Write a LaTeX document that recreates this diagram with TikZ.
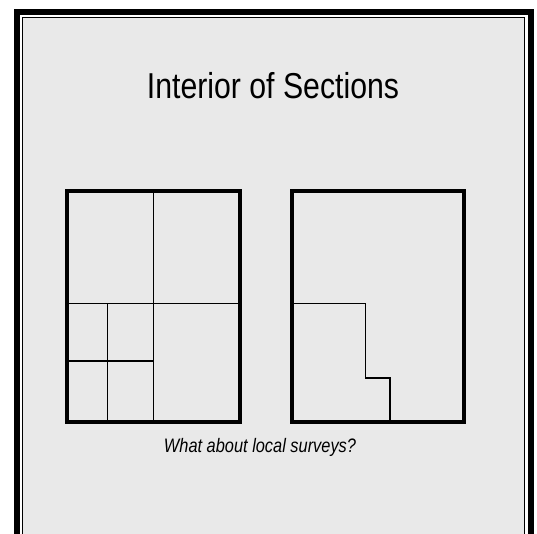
\documentclass[tikz,border=0pt]{standalone}
\usepackage{fontspec}
\newfontfamily\slidefont{Liberation Sans}[FakeStretch=0.84]
\definecolor{slidecol}{RGB}{233,233,233}

\begin{document}
\begin{tikzpicture}[
  x=1pt, y=-1pt,
  every node/.style={font=\slidefont},
  secbox/.style={draw=black, line width=4pt, minimum width=172.5pt, minimum height=230.5pt, inner sep=0pt, outer sep=0pt},
  part/.style={draw=black, line width=1.4pt},
  titletext/.style={anchor=base, font=\slidefont\fontsize{36}{40}\selectfont},
  notetext/.style={anchor=base, font=\slidefont\itshape\fontsize{19.5}{22}\selectfont}
]
\clip (0,0) rectangle (537,533);
\fill[white] (0,0) rectangle (537,533);

% ---------------- slide frame ----------------
\fill[slidecol] (22.5,17.5) rectangle (524.5,560);
\draw[line width=6pt] (17,12) rectangle (531,560);
\draw[line width=1.3pt] (22.5,17.5) rectangle (524.5,560);

% ---------------- title ----------------
\node[titletext] (title) at (273,98) {Interior of Sections};

% ---------------- left section: regular subdivision ----------------
\node[secbox] (leftsec) at (153.25,306.25) {};
\draw[part] (leftsec.north) -- (leftsec.south);
\draw[part] (67,303.5) -- (239.5,303.5);
\draw[part] (107.5,303.5) -- (107.5,421.5);
\draw[part] (67,361) -- (153.25,361);

% ---------------- right section: stepped boundary ----------------
\node[secbox] (rightsec) at (377.75,306.25) {};
\draw[part] (291.5,303.5) -| (365.5,378) -| (390,421.5);

% ---------------- question ----------------
\node[notetext] (note) at (260,452) {What about local surveys?};

\end{tikzpicture}
\end{document}
